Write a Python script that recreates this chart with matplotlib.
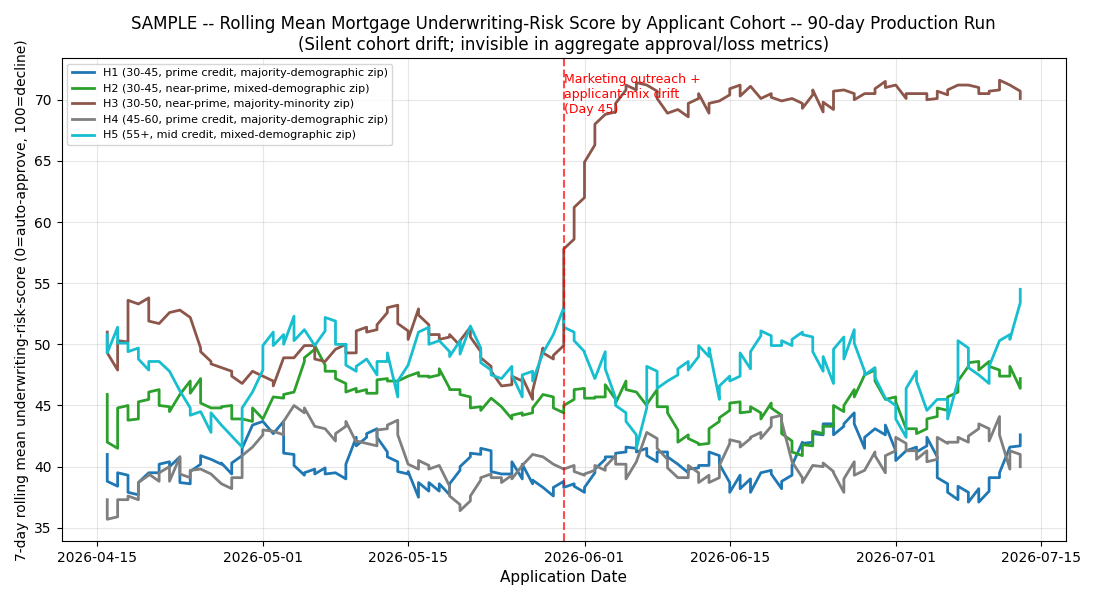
import matplotlib
matplotlib.use("Agg")
import matplotlib.pyplot as plt
import matplotlib.dates as mdates
import numpy as np
import pandas as pd

# daily (first, last) 7-day rolling mean per cohort, 2026-04-16 .. 2026-07-13
dates = pd.date_range("2026-04-16", periods=89, freq="D")
drift_day = pd.Timestamp("2026-05-30")  # Day 45

h1 = [(41.0, 38.8), (38.4, 39.5), (39.3, 37.9), (37.7, 38.7), (39.5, 39.5), (39.5, 40.2), (40.4, 40.0), (40.8, 38.7),
      (38.6, 39.6), (40.2, 40.9), (40.6, 40.6), (40.2, 40.3), (39.4, 40.3), (40.9, 41.5), (43.4, 43.4), (43.7, 43.7),
      (42.7, 42.7), (43.7, 41.1), (41.0, 40.1), (39.3, 39.5), (39.8, 39.4), (39.9, 39.4), (39.5, 39.5), (39.0, 40.2),
      (42.4, 41.7), (42.4, 42.7), (43.1, 42.4), (41.2, 40.8), (40.4, 39.6), (39.4, 39.6), (37.5, 38.7), (38.0, 38.7),
      (38.0, 38.6), (37.7, 38.6), (39.7, 40.0), (40.8, 41.1), (41.0, 41.5), (41.3, 39.6), (39.4, 39.4), (39.4, 40.4),
      (39.0, 40.2), (38.6, 38.9), (38.3, 38.3), (37.6, 38.3), (38.8, 38.3), (38.6, 38.4), (37.9, 38.3), (39.5, 39.8),
      (40.6, 40.8), (40.8, 41.1), (41.2, 41.6), (41.5, 41.2), (41.5, 40.9), (40.4, 41.2), (41.2, 40.8), (40.2, 40.2),
      (39.5, 39.8), (39.9, 40.1), (40.1, 41.2), (40.9, 40.2), (38.7, 37.9), (39.3, 38.2), (39.0, 37.9), (39.5, 39.5),
      (39.7, 39.4), (38.2, 38.8), (39.3, 40.1), (42.0, 41.9), (42.0, 42.7), (42.6, 43.5), (43.5, 42.6), (43.3, 43.5),
      (44.4, 43.5), (41.5, 42.4), (43.1, 43.1), (42.6, 43.4), (41.3, 40.5), (41.3, 41.3), (41.6, 41.2), (41.7, 42.4),
      (40.8, 39.1), (38.6, 37.9), (37.3, 38.4), (37.9, 37.1), (38.2, 37.1), (38.0, 39.1), (39.1, 39.5), (41.6, 41.6),
      (41.7, 42.6)]

h2 = [(45.9, 42.0), (41.5, 44.8), (45.0, 43.8), (43.9, 45.3), (45.5, 46.1), (46.3, 45.0), (44.9, 44.5), (45.9, 45.9),
      (47.0, 46.0), (47.2, 45.2), (44.8, 44.8), (44.8, 44.9), (45.0, 43.9), (43.9, 43.9), (43.7, 44.8), (43.9, 43.9),
      (45.7, 45.7), (45.6, 45.9), (46.1, 46.1), (48.6, 48.9), (49.6, 49.9), (48.3, 47.8), (47.8, 47.2), (46.8, 46.1),
      (46.4, 46.1), (46.3, 46.0), (46.0, 47.1), (47.2, 47.0), (47.0, 47.0), (47.4, 47.4), (47.7, 47.4), (47.4, 47.3),
      (47.5, 48.0), (46.4, 46.3), (46.3, 45.9), (45.7, 44.8), (44.9, 44.6), (45.6, 45.6), (44.9, 44.9), (43.9, 44.2),
      (44.4, 44.2), (44.4, 44.8), (45.9, 45.9), (45.7, 44.8), (44.4, 45.0), (45.5, 46.3), (46.4, 45.6), (45.6, 45.7),
      (45.7, 46.7), (45.5, 45.2), (47.0, 46.3), (46.1, 46.1), (45.0, 45.1), (46.3, 44.9), (44.9, 44.4), (43.0, 42.0),
      (42.6, 42.3), (41.9, 41.8), (41.9, 43.1), (43.7, 44.0), (44.6, 45.2), (45.3, 44.4), (44.5, 44.9), (44.4, 43.9),
      (45.2, 44.8), (44.2, 42.7), (42.1, 41.2), (40.9, 41.8), (41.7, 42.9), (42.7, 43.3), (43.3, 45.0), (44.5, 45.0),
      (46.3, 45.7), (47.5, 47.5), (47.9, 47.0), (45.5, 45.5), (45.7, 45.3), (43.1, 43.1), (43.1, 42.7), (43.1, 43.9),
      (44.1, 44.8), (44.6, 45.7), (46.1, 47.0), (48.2, 48.5), (48.6, 47.9), (48.6, 48.2), (47.9, 47.4), (47.4, 48.2),
      (46.4, 47.2)]

h3 = [(51.0, 49.3), (47.9, 50.3), (50.2, 53.6), (53.3, 53.3), (53.8, 51.9), (51.7, 51.7), (52.6, 52.6), (52.8, 52.8),
      (52.2, 52.2), (49.7, 49.4), (48.6, 48.4), (48.1, 48.1), (47.8, 47.4), (46.8, 46.8), (47.8, 47.8), (47.4, 47.4),
      (47.0, 46.6), (48.9, 48.9), (48.9, 48.9), (49.9, 49.9), (49.9, 48.8), (48.6, 48.6), (49.6, 49.6), (50.0, 49.3),
      (49.3, 51.1), (51.4, 51.0), (51.2, 51.6), (52.6, 53.0), (53.2, 51.7), (51.1, 50.4), (52.9, 52.4), (51.6, 50.8),
      (50.8, 50.4), (50.6, 50.8), (49.9, 50.3), (51.4, 50.6), (49.4, 48.9), (48.2, 47.8), (46.6, 46.6), (46.7, 47.4),
      (47.0, 47.3), (45.5, 46.2), (49.7, 49.3), (48.8, 49.1), (49.9, 57.8), (58.6, 61.2), (62.0, 64.9), (66.3, 68.0),
      (68.8, 68.8), (69.0, 69.7), (70.8, 71.2), (70.8, 71.4), (71.2, 71.2), (70.7, 70.1), (68.9, 68.9), (69.2, 69.2),
      (68.6, 69.7), (70.1, 70.5), (68.9, 69.7), (69.9, 69.9), (70.4, 70.9), (71.2, 70.3), (71.1, 71.1), (70.1, 70.1),
      (70.5, 70.2), (69.9, 69.9), (70.1, 70.1), (69.7, 69.3), (70.4, 70.8), (69.0, 69.8), (69.2, 70.7), (70.8, 70.8),
      (70.5, 70.0), (70.5, 70.5), (70.5, 70.9), (71.5, 71.0), (71.2, 71.2), (70.1, 70.5), (70.5, 70.5), (70.5, 70.0),
      (70.1, 70.7), (70.4, 70.8), (71.2, 71.2), (71.2, 71.2), (71.0, 70.5), (70.5, 70.7), (70.8, 71.6), (71.2, 71.2),
      (70.7, 70.1)]

h4 = [(37.3, 35.7), (35.9, 37.3), (37.3, 37.6), (37.3, 38.7), (39.3, 39.4), (38.8, 39.5), (40.0, 38.8), (40.8, 39.4),
      (39.1, 39.7), (39.8, 39.8), (39.4, 39.4), (38.6, 38.6), (38.2, 39.1), (39.1, 40.9), (41.6, 41.6), (42.6, 43.0),
      (42.9, 42.9), (42.6, 43.7), (45.0, 45.0), (44.4, 44.8), (43.3, 43.3), (43.1, 43.1), (42.1, 42.7), (43.3, 43.7),
      (42.0, 42.1), (41.9, 41.9), (41.7, 43.0), (43.1, 43.4), (43.8, 42.6), (40.2, 40.2), (39.8, 40.5), (40.1, 39.8),
      (40.1, 40.1), (38.4, 37.6), (36.9, 36.4), (37.2, 37.6), (38.9, 39.1), (39.4, 39.1), (39.1, 38.7), (39.3, 39.0),
      (40.1, 40.1), (41.0, 41.0), (40.8, 40.8), (40.2, 40.2), (39.8, 39.8), (40.1, 39.6), (39.3, 39.4), (39.7, 40.1),
      (39.7, 40.0), (40.9, 40.2), (40.2, 39.0), (40.4, 40.4), (42.8, 42.8), (42.3, 41.5), (40.6, 39.9), (39.1, 39.1),
      (39.1, 40.1), (39.5, 38.7), (39.3, 38.7), (39.1, 40.1), (41.9, 42.2), (42.0, 41.6), (42.3, 42.4), (42.8, 42.3),
      (43.3, 44.0), (44.2, 43.7), (40.4, 40.4), (39.1, 38.7), (40.1, 40.1), (40.0, 40.3), (39.6, 39.5), (37.9, 39.0),
      (40.4, 39.3), (39.7, 39.7), (41.2, 40.9), (39.5, 40.9), (41.3, 42.4), (41.9, 41.3), (41.3, 40.6), (41.3, 40.4),
      (40.6, 42.4), (41.9, 42.0), (42.0, 42.4), (42.0, 42.5), (43.1, 43.5), (43.1, 42.1), (44.1, 42.6), (39.8, 41.3),
      (41.0, 40.0)]

h5 = [(50.8, 49.3), (51.4, 50.1), (50.1, 49.4), (49.7, 48.8), (47.9, 48.6), (48.6, 48.6), (47.8, 47.8), (46.2, 46.2),
      (44.8, 44.2), (44.5, 44.5), (42.8, 44.4), (43.4, 43.4), (42.5, 42.5), (41.6, 44.8), (46.1, 46.1), (47.9, 49.9),
      (51.0, 49.9), (50.8, 50.0), (52.3, 50.3), (51.2, 51.2), (49.9, 49.9), (51.1, 52.2), (51.9, 50.0), (50.0, 48.3),
      (47.8, 48.2), (48.8, 48.8), (47.5, 48.6), (48.6, 49.3), (45.7, 47.0), (48.3, 48.3), (51.0, 51.0), (51.4, 50.0),
      (50.3, 50.3), (49.4, 49.0), (50.3, 49.2), (51.5, 51.5), (49.7, 48.5), (47.9, 47.5), (47.2, 47.2), (48.2, 47.5),
      (45.7, 47.5), (47.8, 47.0), (49.3, 49.3), (50.8, 50.8), (53.0, 51.4), (51.0, 50.3), (49.4, 49.3), (47.2, 47.2),
      (49.4, 48.0), (45.6, 45.0), (44.4, 43.7), (42.6, 41.5), (44.8, 48.2), (47.8, 46.4), (47.0, 47.0), (47.5, 48.0),
      (48.6, 47.9), (49.0, 49.9), (49.0, 49.7), (45.5, 46.6), (47.4, 47.0), (47.4, 49.3), (48.0, 49.4), (50.7, 51.1),
      (50.7, 49.9), (49.9, 50.3), (49.9, 50.4), (51.0, 50.8), (50.6, 49.4), (47.8, 49.0), (46.8, 49.6), (50.6, 48.8),
      (51.2, 50.1), (47.8, 47.5), (48.1, 47.3), (45.6, 45.6), (45.0, 43.9), (42.4, 46.4), (47.8, 47.0), (44.6, 44.6),
      (45.5, 45.5), (45.5, 43.9), (47.0, 50.3), (49.7, 48.1), (47.5, 47.5), (46.8, 48.2), (50.3, 50.3), (50.8, 50.4),
      (53.4, 54.5)]

cohorts = [
    ("H1 (30-45, prime credit, majority-demographic zip)", h1, "tab:blue"),
    ("H2 (30-45, near-prime, mixed-demographic zip)", h2, "tab:green"),
    ("H3 (30-50, near-prime, majority-minority zip)", h3, "tab:brown"),
    ("H4 (45-60, prime credit, majority-demographic zip)", h4, "tab:gray"),
    ("H5 (55+, mid credit, mixed-demographic zip)", h5, "tab:cyan"),
]

fig, ax = plt.subplots(figsize=(11, 6), dpi=100)

x = np.repeat(dates.values, 2)
for label, vals, color in cohorts:
    y = np.array(vals).ravel()
    ax.plot(x, y, label=label, color=color, linewidth=2)

ax.axvline(drift_day, color="red", linestyle="--", alpha=0.7, linewidth=1.5)
ax.text(drift_day, 72.2, "Marketing outreach +\napplicant-mix drift\n(Day 45)",
        color="red", fontsize=9, va="top", ha="left")

ax.set_title("SAMPLE -- Rolling Mean Mortgage Underwriting-Risk Score by Applicant Cohort -- 90-day Production Run\n"
             "(Silent cohort drift; invisible in aggregate approval/loss metrics)", fontsize=12)
ax.set_xlabel("Application Date", fontsize=11)
ax.set_ylabel("7-day rolling mean underwriting-risk-score (0=auto-approve, 100=decline)", fontsize=10)
ax.xaxis.set_major_formatter(mdates.DateFormatter("%Y-%m-%d"))
ax.legend(loc="upper left", fontsize=8)
ax.grid(True, alpha=0.3)

plt.subplots_adjust(left=0.056, right=0.969, top=0.903, bottom=0.098)
plt.savefig("out.png")
